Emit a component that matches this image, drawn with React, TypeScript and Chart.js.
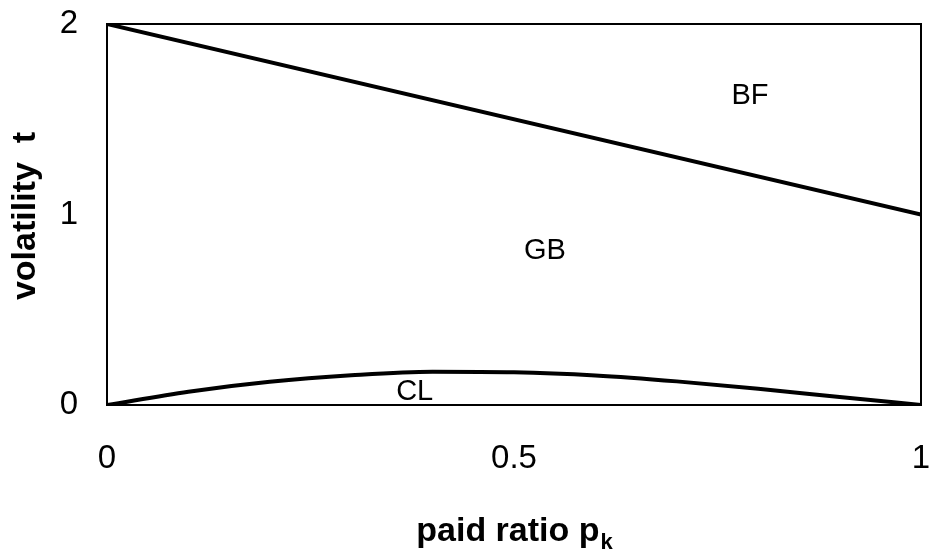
import React, { useEffect, useRef } from "react";
import { Chart, registerables } from "chart.js";

Chart.register(...registerables);

const xTicks = [0, 0.5, 1];
const yTicks = [0, 1, 2];
const bfLineX = [0, 1];
const bfLineY = [2, 1];
const clCurveX = [0, 0.1, 0.2, 0.3, 0.4, 0.5, 0.6, 0.7, 0.8, 0.9, 1];
const clCurveY = [0, 0.07, 0.122, 0.156, 0.175, 0.172, 0.155, 0.124, 0.085, 0.042, 0];
const regionLabels = ["BF", "GB", "CL"];
const regionX = [0.79, 0.538, 0.378];
const regionY = [1.62, 0.81, 0.07];

const FONT = "'Liberation Sans', Arial, sans-serif";

const overlay = {
  id: "overlay",
  afterDatasetsDraw(chart: any) {
    const { ctx, chartArea, scales } = chart;
    ctx.save();
    ctx.strokeStyle = "#000";
    ctx.lineWidth = 2;
    ctx.strokeRect(chartArea.left, chartArea.top, chartArea.right - chartArea.left, chartArea.bottom - chartArea.top);
    ctx.fillStyle = "#000";
    ctx.font = `29px ${FONT}`;
    ctx.textAlign = "center";
    ctx.textBaseline = "middle";
    regionLabels.forEach((t, i) => {
      ctx.fillText(t, scales.x.getPixelForValue(regionX[i]), scales.y.getPixelForValue(regionY[i]));
    });
    const main = "paid ratio p";
    const sub = "k";
    ctx.font = `bold 34px ${FONT}`;
    const wMain = ctx.measureText(main).width;
    ctx.font = `bold 22px ${FONT}`;
    const wSub = ctx.measureText(sub).width;
    const cx = (chartArea.left + chartArea.right) / 2;
    const startX = cx - (wMain + wSub) / 2;
    ctx.textAlign = "left";
    ctx.textBaseline = "alphabetic";
    ctx.font = `bold 34px ${FONT}`;
    ctx.fillText(main, startX, 541);
    ctx.font = `bold 22px ${FONT}`;
    ctx.fillText(sub, startX + wMain + 1, 549);
    ctx.translate(35, 216);
    ctx.rotate(-Math.PI / 2);
    ctx.font = `bold 34px ${FONT}`;
    ctx.textAlign = "center";
    ctx.textBaseline = "alphabetic";
    ctx.fillText("volatility  t", 0, 0);
    ctx.restore();
  },
};

export default function App() {
  const ref = useRef<HTMLCanvasElement>(null);
  useEffect(() => {
    document.body.style.margin = "0";
    const chart = new Chart(ref.current!, {
      type: "scatter",
      data: {
        datasets: [
          {
            data: bfLineX.map((x, i) => ({ x, y: bfLineY[i] })),
            showLine: true,
            borderColor: "#000",
            borderWidth: 4,
            pointRadius: 0,
          },
          {
            data: clCurveX.map((x, i) => ({ x, y: clCurveY[i] })),
            showLine: true,
            borderColor: "#000",
            borderWidth: 4,
            pointRadius: 0,
            cubicInterpolationMode: "monotone",
          },
        ],
      },
      options: {
        animation: false,
        responsive: false,
        devicePixelRatio: 1,
        layout: { padding: { top: 24, right: 11, left: 0, bottom: 0 } },
        plugins: { legend: { display: false }, tooltip: { enabled: false } },
        scales: {
          x: {
            type: "linear",
            min: 0,
            max: 1,
            afterBuildTicks: (s: any) => {
              s.ticks = xTicks.map((v) => ({ value: v }));
            },
            afterFit: (s: any) => {
              s.height = 150;
              s.paddingLeft = 0;
              s.paddingRight = 0;
            },
            grid: { display: false },
            border: { display: false },
            ticks: {
              color: "#000",
              font: { family: FONT, size: 33 },
              padding: 26,
              maxRotation: 0,
              callback: (v: any) => String(v),
            },
          },
          y: {
            type: "linear",
            min: 0,
            max: 2,
            afterBuildTicks: (s: any) => {
              s.ticks = yTicks.map((v) => ({ value: v }));
            },
            afterFit: (s: any) => {
              s.width = 107;
              s.paddingTop = 0;
              s.paddingBottom = 0;
            },
            grid: { display: false },
            border: { display: false },
            ticks: {
              color: "#000",
              font: { family: FONT, size: 33 },
              padding: 21,
              callback: (v: any) => String(v),
            },
          },
        },
      },
      plugins: [overlay],
    } as any);
    return () => chart.destroy();
  }, []);
  return (
    <div style={{ position: "absolute", left: 0, top: 0, width: 932, height: 555, background: "#fff" }}>
      <canvas ref={ref} width={932} height={555} style={{ width: 932, height: 555 }} />
    </div>
  );
}
